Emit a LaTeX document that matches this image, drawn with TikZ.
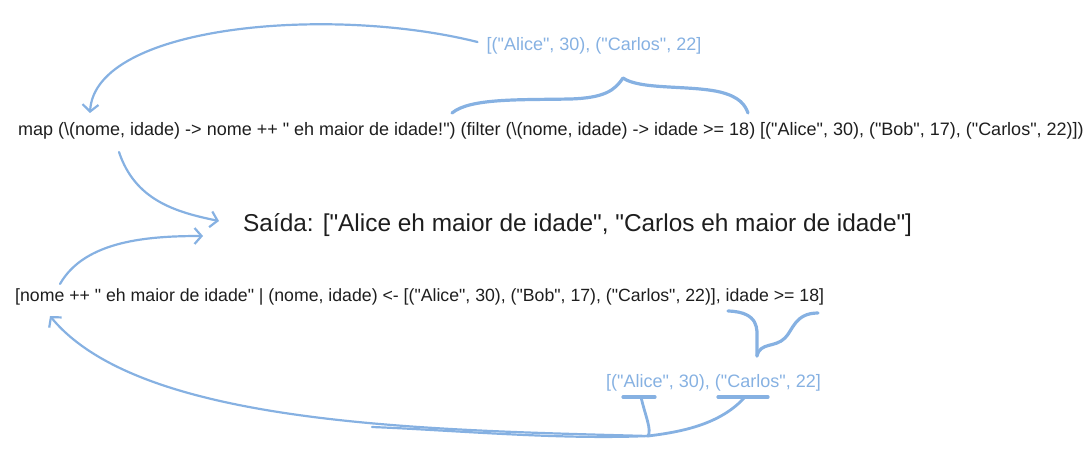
\documentclass[tikz,border=0pt]{standalone}
\usepackage{fontspec}
\usepackage{xcolor}
\usetikzlibrary{arrows.meta}
\newfontfamily\sketchfont{Liberation Sans}
\definecolor{skblue}{RGB}{134,177,226}
\definecolor{ink}{RGB}{30,30,30}

\begin{document}
\begin{tikzpicture} [x = 1pt, y = -1pt,
    code/.style = {font = \sketchfont\fontsize{18}{22}\selectfont, text = ink, inner sep = 0pt},
    note/.style = {code, text = skblue},
    result/.style = {code, font = \sketchfont\fontsize{24.4}{28}\selectfont},
    stroke/.style = {draw = skblue, line width = 2.2pt, line cap = round, line join = round},
    brace/.style = {stroke, line width = 3.2pt},
    arrow/.style = {stroke, -{Straight Barb[length = 7pt, width = 16pt]}}]
\useasboundingbox (0,0) rectangle (1084,457);
\node (top) [note] at (594,46) {[("Alice", 30), ("Carlos", 22]};
\node (mapexpr) [code, anchor = west] at (18,131) {map (\textbackslash(nome, idade) -> nome ++ " eh maior de idade!") (filter (\textbackslash(nome, idade) -> idade >= 18) [("Alice", 30), ("Bob", 17), ("Carlos", 22)])};
\node (saida) [result, anchor = west] at (243,225) {Saída: ["Alice eh maior de idade", "Carlos eh maior de idade"]};
\node (listcomp) [code, font = \sketchfont\fontsize{17.7}{22}\selectfont, anchor = west] at (15,297) {[nome ++ " eh maior de idade" | (nome, idade) <- [("Alice", 30), ("Bob", 17), ("Carlos", 22)], idade >= 18]};
\node (bottom) [note] at (713.5,383) {[("Alice", 30), ("Carlos", 22]};
\coordinate (topout) at ([xshift = -9pt, yshift = 4pt] top.west);
\coordinate (mapin) at (90,113);
\coordinate (mapout) at (119,152);
\coordinate (saidain) at ([xshift = -24pt, yshift = 4pt] saida.west);
\coordinate (compout) at (60,284);
\coordinate (saidalow) at ([xshift = -40pt, yshift = -11pt] saida.west);
\coordinate (compin) at (50,316);
\coordinate (filterL) at (452,113);
\coordinate (filterR) at (748,113);
\coordinate (filterTip) at (623,78);
\coordinate (condL) at (728,311);
\coordinate (condR) at (818,313);
\coordinate (condTip) at (757,356);
\coordinate (aliceL) at (623,397);
\coordinate (aliceR) at (655,397);
\coordinate (carlosL) at (718,397);
\coordinate (carlosR) at (768,397);
\coordinate (join) at (648,436);
\draw [arrow] (topout) .. controls (330,5) and (95,25) .. (mapin);
\draw [arrow] (mapout) .. controls (135,200) and (175,212) .. (saidain);
\draw [arrow] (compout) .. controls (85,240) and (150,236) .. (saidalow);
\draw [brace] (filterL) .. controls (470,98) and (520,100) .. (570,99) .. controls (605,98) and (615,90) .. (filterTip)
    .. controls (640,90) and (690,85) .. (720,92) .. controls (740,97) and (745,105) .. (filterR);
\draw [brace] (condL) .. controls (760,312) and (757,330) .. (757,340) -- (condTip);
\draw [brace] (condR) .. controls (795,313) and (793,330) .. (785,338) .. controls (775,348) and (760,342) .. (condTip);
\draw [brace] (aliceL) -- (aliceR);
\draw [brace] (carlosL) -- (carlosR);
\draw [stroke, line width = 2.8pt] (641,397) .. controls (645,415) and (652,430) .. (join);
\draw [stroke, line width = 2.8pt] (745,397) .. controls (720,425) and (680,432) .. (join);
\draw [arrow] (join) .. controls (420,430) and (140,425) .. (compin);
\draw [stroke] (join) .. controls (560,440) and (450,430) .. (372,427);
\end{tikzpicture}
\end{document}
